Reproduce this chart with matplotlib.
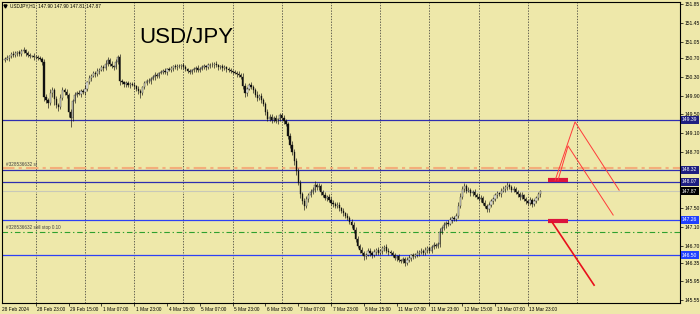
import matplotlib
matplotlib.use('Agg')
import matplotlib.pyplot as plt
import matplotlib.transforms as mtransforms

# ---------------- data ----------------
close = [
    150.68, 150.70, 150.74, 150.78, 150.76, 150.80, 150.82, 150.79, 150.84, 150.86,
    150.80, 150.76, 150.74, 150.75, 150.72, 150.73, 150.70, 150.68, 150.62, 149.86,
    149.80, 149.74, 149.95, 150.02, 149.82, 149.70, 149.66, 149.85, 150.02, 149.98,
    149.92, 149.55, 149.42, 149.78, 149.92, 149.96, 149.94, 150.00, 149.97, 150.05,
    150.18, 150.28, 150.32, 150.38, 150.35, 150.42, 150.45, 150.50, 150.48, 150.58,
    150.66, 150.58, 150.52, 150.50, 150.62, 150.72, 150.20, 150.18, 150.14, 150.16,
    150.12, 150.15, 150.13, 150.10, 150.05, 150.00, 149.95, 150.08, 150.16, 150.22,
    150.20, 150.26, 150.30, 150.34, 150.32, 150.38, 150.40, 150.42, 150.40, 150.46,
    150.45, 150.48, 150.52, 150.50, 150.53, 150.52, 150.55, 150.50, 150.46, 150.42,
    150.40, 150.44, 150.46, 150.48, 150.45, 150.47, 150.50, 150.52, 150.50, 150.54,
    150.56, 150.55, 150.58, 150.54, 150.50, 150.52, 150.48, 150.50, 150.46, 150.44,
    150.42, 150.40, 150.38, 150.36, 150.34, 150.30, 150.10, 149.95, 150.05, 150.12,
    150.08, 150.02, 149.92, 149.85, 149.90, 149.80, 149.72, 149.55, 149.40, 149.45,
    149.38, 149.42, 149.35, 149.40, 149.48, 149.42, 149.35, 149.30, 149.05, 148.85,
    148.70, 148.50, 148.30, 148.05, 147.80, 147.65, 147.55, 147.70, 147.78, 147.85,
    147.90, 148.00, 147.95, 147.98, 147.85, 147.78, 147.72, 147.75, 147.68, 147.62,
    147.60, 147.55, 147.58, 147.50, 147.45, 147.40, 147.35, 147.30, 147.22, 147.15,
    147.05, 146.85, 146.70, 146.62, 146.55, 146.48, 146.52, 146.60, 146.55, 146.50,
    146.58, 146.62, 146.55, 146.60, 146.65, 146.68, 146.60, 146.58, 146.55, 146.50,
    146.45, 146.48, 146.40, 146.38, 146.42, 146.35, 146.40, 146.45, 146.50, 146.48,
    146.52, 146.55, 146.58, 146.60, 146.55, 146.62, 146.65, 146.60, 146.68, 146.72,
    146.70, 146.75, 147.00, 147.08, 147.15, 147.20, 147.18, 147.25, 147.30, 147.28,
    147.35, 147.55, 147.75, 147.92, 147.98, 147.88, 147.90, 147.82, 147.85, 147.78,
    147.75, 147.70, 147.72, 147.62, 147.55, 147.48, 147.58, 147.65, 147.70, 147.78,
    147.82, 147.80, 147.88, 147.92, 147.95, 148.00, 147.96, 147.90, 147.92, 147.85,
    147.80, 147.75, 147.78, 147.70, 147.65, 147.62, 147.68, 147.60, 147.66, 147.72,
    147.80, 147.87,
]
first_open = 150.66
upper_wick = [  # hundredths of a yen
    4, 6, 3, 5, 7, 4, 3, 6, 5, 8, 3, 5, 4, 2, 6, 3, 4, 5, 3, 6,
    8, 5, 10, 6, 4, 7, 5, 9, 6, 4, 5, 3, 6, 4, 5, 3, 6, 4, 5, 7,
    4, 6, 3, 5, 4, 6, 3, 5, 4, 8, 6, 4, 5, 3, 5, 4, 6, 5, 3, 4,
    5, 3, 4, 6, 3, 5, 4, 3, 6, 4, 5, 3, 4, 6, 4, 3, 5, 4, 6, 3,
    4, 5, 3, 6, 4, 5, 3, 4, 5, 3, 4, 3, 5, 4, 6, 3, 4, 5, 3, 6,
    4, 5, 3, 6, 4, 3, 5, 4, 3, 5, 4, 3, 5, 4, 6, 5, 8, 6, 4, 5,
    6, 4, 5, 7, 4, 6, 5, 4, 6, 5, 5, 4, 6, 3, 5, 4, 6, 5, 4, 6,
    8, 6, 7, 5, 6, 5, 8, 6, 5, 7, 6, 9, 5, 6, 4, 5, 6, 4, 5, 6,
    5, 4, 6, 5, 4, 5, 3, 6, 4, 5, 6, 5, 7, 4, 6, 5, 4, 6, 5, 4,
    5, 4, 6, 3, 5, 4, 6, 5, 3, 4, 5, 4, 6, 3, 5, 4, 6, 5, 4, 5,
    4, 6, 3, 5, 4, 6, 5, 3, 4, 6, 5, 4, 8, 5, 6, 4, 5, 6, 4, 5,
    6, 8, 7, 6, 7, 5, 6, 4, 5, 6, 4, 5, 6, 4, 5, 4, 6, 5, 4, 5,
    5, 4, 6, 5, 4, 6, 5, 4, 5, 4, 5, 4, 6, 3, 5, 4, 6, 5, 4, 5,
    5, 3,
]
lower_wick = [
    5, 3, 6, 4, 5, 3, 6, 4, 5, 3, 6, 4, 5, 3, 6, 4, 5, 3, 6, 8,
    6, 10, 5, 7, 12, 6, 8, 5, 4, 6, 7, 10, 19, 6, 4, 5, 3, 6, 4, 5,
    5, 4, 6, 3, 5, 4, 6, 3, 5, 4, 5, 6, 4, 5, 3, 5, 8, 4, 5, 6,
    4, 5, 3, 6, 5, 6, 10, 4, 5, 3, 4, 5, 3, 6, 4, 5, 3, 4, 5, 6,
    3, 4, 5, 3, 6, 4, 5, 3, 4, 5, 4, 5, 3, 6, 4, 5, 3, 4, 5, 3,
    5, 4, 6, 3, 5, 4, 6, 3, 5, 4, 5, 4, 3, 6, 4, 5, 6, 8, 5, 4,
    5, 6, 4, 7, 5, 6, 5, 6, 5, 4, 6, 5, 4, 6, 5, 4, 6, 5, 7, 6,
    6, 7, 8, 6, 7, 6, 8, 5, 6, 4, 5, 4, 6, 5, 6, 4, 5, 6, 4, 5,
    6, 4, 5, 6, 4, 5, 6, 5, 4, 6, 7, 6, 5, 6, 5, 8, 5, 4, 6, 5,
    4, 6, 5, 4, 6, 5, 4, 6, 5, 4, 5, 6, 4, 5, 4, 7, 5, 4, 6, 5,
    4, 5, 6, 4, 5, 3, 6, 4, 5, 4, 5, 4, 6, 5, 4, 6, 5, 4, 6, 5,
    4, 6, 5, 4, 6, 5, 4, 6, 5, 4, 5, 4, 6, 5, 4, 6, 5, 4, 5, 4,
    6, 4, 5, 4, 6, 5, 4, 6, 5, 4, 5, 6, 4, 5, 6, 4, 5, 6, 4, 5,
    4, 5,
]

time_label_bars = [0, 15, 31, 47, 63, 79, 95, 111, 127, 143, 159, 175, 191, 207, 223, 239, 255]
time_labels = ["28 Feb 2024", "28 Feb 23:00", "29 Feb 15:00", "1 Mar 07:00", "1 Mar 23:00",
               "4 Mar 15:00", "5 Mar 07:00", "5 Mar 23:00", "6 Mar 15:00", "7 Mar 07:00",
               "7 Mar 23:00", "8 Mar 15:00", "11 Mar 07:00", "11 Mar 23:00", "12 Mar 15:00",
               "13 Mar 07:00", "13 Mar 23:00"]
grid_bars = [15, 39, 63, 87, 111, 135, 159, 183, 207, 231, 255, 279]

price_ticks = [151.85, 151.45, 151.05, 150.70, 150.30, 149.90, 149.50, 149.10, 148.70,
               147.50, 147.10, 146.70, 146.35, 145.95, 145.55]

level_prices = [149.39, 148.32, 148.07, 147.26, 146.50]
level_labels = ["149.39", "148.32", "148.07", "147.26", "146.50"]
level_line_colors = ["#2E2EB0", "#2E2EB0", "#2E2EB0", "#2E40F4", "#2E40F4"]
level_box_colors = ["#1E1E80", "#1E1E80", "#1E1E80", "#2040FF", "#2040FF"]
current_price = 147.87
current_label = "147.87"
sl_price = 148.36
sl_text = "#328536632 sl"
stop_price = 147.00
stop_text = "#328536632 sell stop 0.10"

# trend drawings: (bar, price) anchors
zone_bars = (264.9, 274.6)
zone_prices = [148.10, 147.23]
leg1 = ([268.3, 278.0, 299.5], [148.10, 149.34, 147.89])
leg2 = ([269.7, 274.6, 296.6], [148.10, 148.83, 147.36])
down_leg = ([266.8, 287.3], [147.21, 145.87])

header_text = "USDJPY,H1  147.90 147.90 147.81 147.87"
title_text = "USD/JPY"

# ---------------- figure ----------------
BG = "#EEE8AA"
W, H = 700, 314
fig = plt.figure(figsize=(W / 100, H / 100), dpi=100, facecolor=BG)
ax = fig.add_axes([2 / W, (H - 303) / H, 678 / W, 301 / H])
ax.set_facecolor(BG)
ax.set_xlim(-1.49, 329.2)
ax.set_ylim(145.49, 151.89)

FONT = "Liberation Sans"

# vertical grid
for gb in grid_bars:
    ax.axvline(gb, color="#303030", lw=0.5, ls=(0, (2, 2)), zorder=1)

# horizontal levels
for p, c in zip(level_prices, level_line_colors):
    ax.axhline(p, color=c, lw=0.9, zorder=2)
ax.axhline(current_price, color="#C8C8B8", lw=0.8, zorder=2)
ax.axhline(sl_price, color="#F4AE7A", lw=1.5, ls=(0, (6, 2, 1.5, 2)), zorder=2)
ax.axhline(stop_price, color="#2EA02E", lw=0.8, ls=(0, (5, 2.5, 1.2, 2.5)), zorder=2)

# candles
opens = [first_open] + close[:-1]
xs = list(range(len(close)))
highs = [max(o, c) + u / 100 for o, c, u in zip(opens, close, upper_wick)]
lows = [min(o, c) - l / 100 for o, c, l in zip(opens, close, lower_wick)]
ax.vlines(xs, lows, highs, color="#101010", lw=0.45, zorder=3)
bottoms = [min(o, c) for o, c in zip(opens, close)]
heights = [max(abs(c - o), 0.004) for o, c in zip(opens, close)]
faces = ["#F8F8F0" if c >= o else "#101010" for o, c in zip(opens, close)]
ax.bar(xs, heights, bottom=bottoms, width=0.6, color=faces, edgecolor="#101010",
       linewidth=0.25, zorder=4)

# red drawings
for zp in zone_prices:
    ax.plot(zone_bars, [zp, zp], color="#DC143C", lw=3.0, solid_capstyle="butt", zorder=5)
ax.plot(leg1[0], leg1[1], color="#FF3A3A", lw=0.7, zorder=5)
ax.plot(leg2[0], leg2[1], color="#FF3A3A", lw=0.7, zorder=5)
ax.plot(down_leg[0], down_leg[1], color="#E8101C", lw=1.2, zorder=5)

# texts inside plot
ax.text(137 / 678, 1 - (43 - 2) / 301, title_text, transform=ax.transAxes, fontsize=16,
        family=FONT, color="black", ha="left", va="baseline", zorder=6)
ax.text(8 / 678, 1 - (6 - 2) / 301, header_text, transform=ax.transAxes, fontsize=3.4,
        family=FONT, color="black", ha="left", va="center", zorder=6)
ax.plot([2.5 / 678], [1 - 4 / 301], marker="v", ms=2.2, color="black",
        transform=ax.transAxes, clip_on=False, zorder=6)
blend = mtransforms.blended_transform_factory(ax.transAxes, ax.transData)
ax.text(4 / 678, sl_price + 0.02, sl_text, transform=blend, fontsize=3.3, family=FONT,
        color="#404040", ha="left", va="bottom", zorder=6)
ax.text(4 / 678, stop_price + 0.04, stop_text, transform=blend, fontsize=3.3, family=FONT,
        color="#404040", ha="left", va="bottom", zorder=6)

# right price axis
ax.yaxis.tick_right()
ax.set_yticks(price_ticks)
ax.set_yticklabels([f"{t:.2f}" for t in price_ticks])
ax.tick_params(axis="y", labelsize=3.6, length=2.5, width=0.5, pad=0.8, colors="black")
for lbl in ax.get_yticklabels():
    lbl.set_family(FONT)

for p, t, bc in zip(level_prices, level_labels, level_box_colors):
    ax.text(1 + 2 / 678, p, t, transform=blend, fontsize=3.6, family=FONT, color="white",
            ha="left", va="center", clip_on=False, zorder=7,
            bbox=dict(boxstyle="square,pad=0.3", fc=bc, ec="none"))
ax.text(1 + 2 / 678, current_price, current_label, transform=blend, fontsize=3.6, family=FONT,
        color="white", ha="left", va="center", clip_on=False, zorder=7,
        bbox=dict(boxstyle="square,pad=0.3", fc="black", ec="none"))

# bottom time axis
ax.set_xticks(time_label_bars[1:])
ax.set_xticklabels([])
ax.tick_params(axis="x", length=2.5, width=0.5, colors="black")
off = mtransforms.offset_copy(ax.transData, fig=fig, x=1.5, y=0, units="dots")
blend_x = mtransforms.blended_transform_factory(off, ax.transAxes)
for b, t in zip(time_label_bars, time_labels):
    if b == 0:
        ax.text(0.0, -4 / 301, t, transform=ax.transAxes, fontsize=3.4, family=FONT,
                ha="left", va="top", clip_on=False)
    else:
        ax.text(b, -4 / 301, t, transform=blend_x, fontsize=3.4, family=FONT,
                ha="left", va="top", clip_on=False)

for s in ax.spines.values():
    s.set_color("black")
    s.set_linewidth(0.8)

fig.savefig("out.png", dpi=100, facecolor=BG)
